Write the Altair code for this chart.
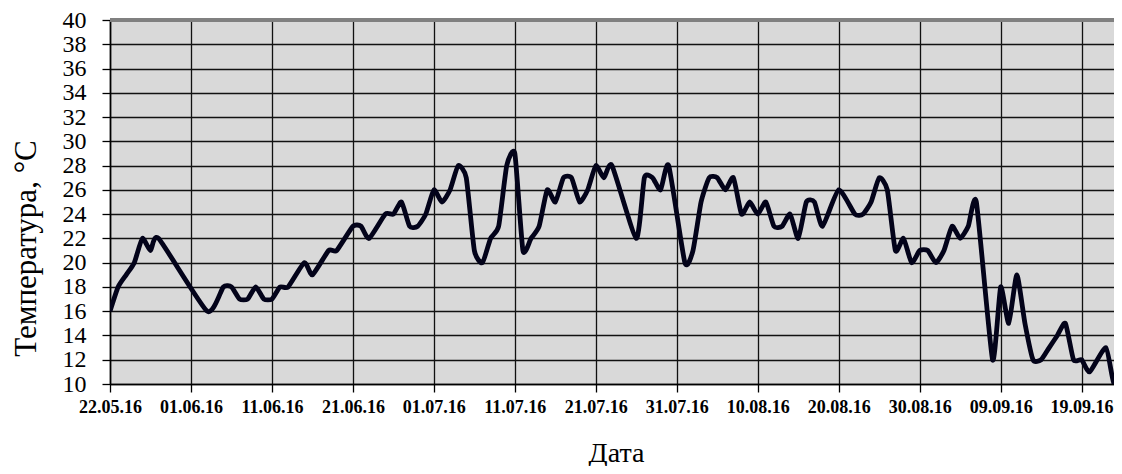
import altair as alt
import pandas as pd

# days counted from 22.05.2016
day_offsets = [0, 1, 2, 3, 4, 5, 6, 12, 14, 15, 16, 17, 18, 19, 20, 21, 22, 24, 25, 27,
               28, 30, 31, 32, 34, 35, 36, 37, 38, 39, 40, 41, 42, 43, 44, 45, 46, 47, 48, 49,
               50, 51, 52, 53, 54, 55, 56, 57, 58, 59, 60, 61, 62, 65, 66, 67, 68, 69, 71, 72,
               73, 74, 75, 76, 77, 78, 79, 80, 81, 82, 83, 84, 85, 86, 87, 88, 90, 92, 93, 94,
               95, 96, 97, 98, 99, 100, 101, 102, 103, 104, 105, 106, 107, 109, 110, 111, 112, 113, 114, 115,
               116, 117, 118, 119, 120, 121, 123, 124, 125]
temperatures = [16, 18, 19, 20, 22, 21, 22, 16, 18, 18, 17, 17, 18, 17, 17, 18, 18, 20, 19, 21,
                21, 23, 23, 22, 24, 24, 25, 23, 23, 24, 26, 25, 26, 28, 27, 21, 20, 22, 23, 28,
                29, 21, 22, 23, 26, 25, 27, 27, 25, 26, 28, 27, 28, 22, 27, 27, 26, 28, 20, 21,
                25, 27, 27, 26, 27, 24, 25, 24, 25, 23, 23, 24, 22, 25, 25, 23, 26, 24, 24, 25,
                27, 26, 21, 22, 20, 21, 21, 20, 21, 23, 22, 23, 25, 12, 18, 15, 19, 15, 12, 12,
                13, 14, 15, 12, 12, 11, 13, 10, 12]

tick_days = [0, 10, 20, 30, 40, 50, 60, 70, 80, 90, 100, 110, 120]
tick_labels = ["22.05.16", "01.06.16", "11.06.16", "21.06.16", "01.07.16", "11.07.16",
               "21.07.16", "31.07.16", "10.08.16", "20.08.16", "30.08.16", "09.09.16", "19.09.16"]
y_ticks = [10, 12, 14, 16, 18, 20, 22, 24, 26, 28, 30, 32, 34, 36, 38, 40]

df = pd.DataFrame({"day": day_offsets, "temp": temperatures})

label_expr = "[" + ",".join("'" + t + "'" for t in tick_labels) + "][round(datum.value / 10)]"

FONT = "Liberation Serif"
W, H = 1004, 364

x_axis = alt.Axis(
    values=tick_days, labelExpr=label_expr, grid=True, gridColor="#111111", gridWidth=1.3,
    domainColor="#000000", domainWidth=1.6, tickColor="#000000", tickSize=8, tickWidth=1.3,
    labelFont=FONT, labelFontSize=18, labelFontWeight="bold", labelColor="#000000",
    labelPadding=6, labelFlush=False, labelOverlap=False,
    title="Дата", titleFont=FONT, titleFontSize=28, titleFontWeight="normal",
    titleColor="#000000", titleX=506, titleY=77, titleAlign="center",
    titleBaseline="alphabetic",
)
y_axis = alt.Axis(
    values=y_ticks, grid=True, gridColor="#111111", gridWidth=1.3,
    domainColor="#000000", domainWidth=1.6, tickColor="#000000", tickSize=8, tickWidth=1.3,
    labelFont=FONT, labelFontSize=24, labelColor="#000000", labelPadding=16,
    labelOverlap=False, labelFlush=False,
    title="Температура, °С", titleFont=FONT, titleFontSize=31, titleFontWeight="normal",
    titleColor="#000000", titleAngle=270, titleX=-84, titleY=228, titleAlign="center",
    titleBaseline="middle",
)

line = alt.Chart(df).mark_line(
    interpolate="cardinal", tension=0.45, color="#03031a", strokeWidth=4.8, clip=True
).encode(
    x=alt.X("day:Q", scale=alt.Scale(domain=[0, 124], nice=False, zero=False), axis=x_axis),
    y=alt.Y("temp:Q", scale=alt.Scale(domain=[10, 40], nice=False, zero=False), axis=y_axis),
)

top_border = alt.Chart(df).mark_rule(color="#808080", strokeWidth=2.5).encode(
    x=alt.value(0), x2=alt.value(W), y=alt.value(0)
)

chart = alt.layer(line, top_border).properties(
    width=W, height=H,
    padding={"left": 102, "top": 12, "right": 0, "bottom": 82},
    autosize=alt.AutoSizeParams(type="none"),
).configure_view(fill="#d9d9d9", stroke="transparent")

chart.save("out.html", embed_options={"renderer": "svg", "actions": False})
